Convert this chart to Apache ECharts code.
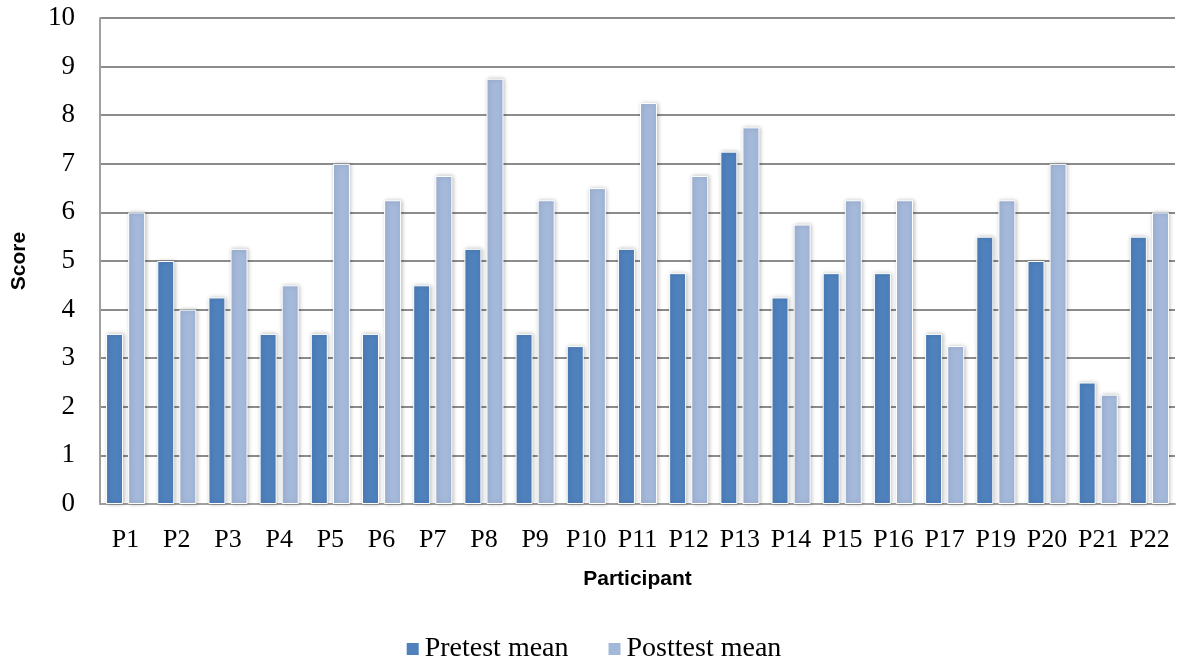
<!DOCTYPE html>
<html><head><meta charset="utf-8">
<script src="https://cdn.jsdelivr.net/npm/echarts@6/dist/echarts.min.js"></script>
<style>html,body{margin:0;padding:0;background:#fff}#c{width:1186px;height:663px}</style>
</head><body><div id="c"></div>
<script>
const categories = ['P1','P2','P3','P4','P5','P6','P7','P8','P9','P10','P11','P12','P13','P14','P15','P16','P17','P19','P20','P21','P22'];
const pretest  = [3.5, 5, 4.25, 3.5, 3.5, 3.5, 4.5, 5.25, 3.5, 3.25, 5.25, 4.75, 7.25, 4.25, 4.75, 4.75, 3.5, 5.5, 5, 2.5, 5.5];
const posttest = [6, 4, 5.25, 4.5, 7, 6.25, 6.75, 8.75, 6.25, 6.5, 8.25, 6.75, 7.75, 5.75, 6.25, 6.25, 3.25, 6.25, 7, 2.25, 6];
const yTicks = [0,1,2,3,4,5,6,7,8,9,10];

const chart = echarts.init(document.getElementById('c'));
const serif = 'Liberation Serif';
const barStyle = (color) => ({
  color: color, borderColor: '#fff', borderWidth: 1,
  shadowColor: 'rgba(0,0,0,0.25)', shadowBlur: 4, shadowOffsetX: 1, shadowOffsetY: 0
});
chart.setOption({
  animation: false,
  grid: { left: 100, right: 11, top: 18, bottom: 159 },
  legend: {
    bottom: 0, left: 'center', padding: [0, 5, 0, 0], itemWidth: 14, itemHeight: 14, itemGap: 38,
    icon: 'rect',
    textStyle: { fontFamily: serif, fontSize: 28, color: '#000' },
    data: ['Pretest mean', 'Posttest mean']
  },
  xAxis: {
    type: 'category', data: categories,
    name: 'Participant', nameLocation: 'middle', nameGap: 65,
    nameTextStyle: { fontFamily: 'Liberation Sans', fontWeight: 'bold', fontSize: 21, color: '#000' },
    axisLine: { lineStyle: { color: '#a0a0a0', width: 2 } },
    axisTick: { show: false },
    axisLabel: { interval: 0, fontFamily: serif, fontSize: 26, color: '#000', margin: 23 }
  },
  yAxis: {
    type: 'value', min: 0, max: 10, interval: 1,
    name: 'Score', nameLocation: 'middle', nameGap: 70, nameRotate: 90,
    nameTextStyle: { fontFamily: 'Liberation Sans', fontWeight: 'bold', fontSize: 21, color: '#000' },
    axisLine: { show: true, lineStyle: { color: '#a0a0a0', width: 2 } },
    axisTick: { show: false },
    splitLine: { lineStyle: { color: '#8c8c8c', width: 2 } },
    axisLabel: { fontFamily: serif, fontSize: 27, color: '#000', margin: 25,
      formatter: v => yTicks.includes(v) ? String(v) : '' }
  },
  series: [
    { name: 'Pretest mean', type: 'bar', data: pretest, barWidth: 17, barGap: '30%',
      itemStyle: barStyle('#4f81bd') },
    { name: 'Posttest mean', type: 'bar', data: posttest, barWidth: 17, barGap: '30%',
      itemStyle: barStyle('#a4b8da') }
  ]
});
</script></body></html>
